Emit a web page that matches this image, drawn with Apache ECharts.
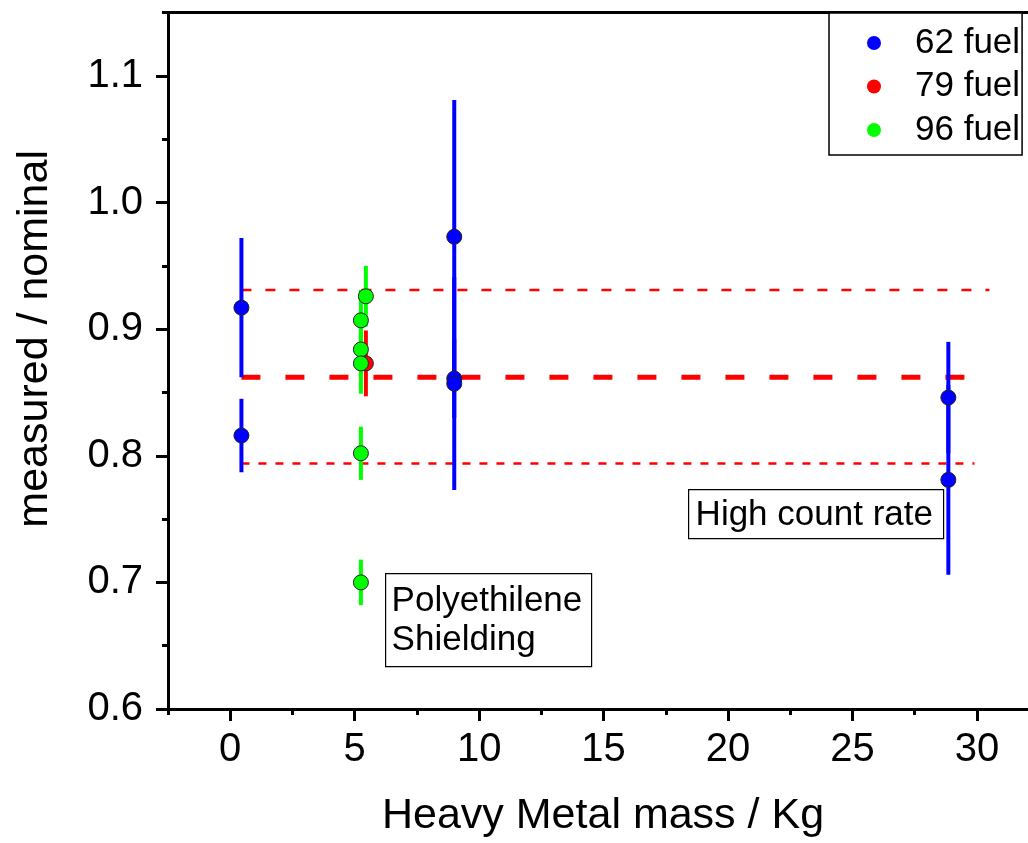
<!DOCTYPE html>
<html>
<head>
<meta charset="utf-8">
<script src="https://cdn.jsdelivr.net/npm/echarts@6/dist/echarts.min.js"></script>
<style>
html,body{margin:0;padding:0;background:#fff;}
#chart{width:1028px;height:843px;}
</style>
</head>
<body>
<div id="chart"></div>
<script>
// ---- data ----
const fuel62X = [0.45, 0.45, 9.0, 9.0, 9.0, 28.85, 28.85];
const fuel62Y = [0.917, 0.816, 0.973, 0.861, 0.857, 0.846, 0.781];
const fuel62Err = [0.055, 0.029, 0.108, 0.031, 0.084, 0.044, 0.075];

const fuel79X = [5.45];
const fuel79Y = [0.873];
const fuel79Err = [0.026];

const fuel96X = [5.45, 5.25, 5.25, 5.25, 5.25, 5.25];
const fuel96Y = [0.926, 0.907, 0.884, 0.873, 0.802, 0.700];
const fuel96Err = [0.024, 0.024, 0.020, 0.024, 0.021, 0.018];

const meanValue = 0.862;
const upperBand = 0.931;
const lowerBand = 0.794;
const meanLineX = [0.45, 30.3];
const upperLineX = [0.45, 30.5];
const lowerLineX = [0.45, 29.9];

const xMajorTicks = [0, 5, 10, 15, 20, 25, 30];
const xMinorTicks = [-2.5, 2.5, 7.5, 12.5, 17.5, 22.5, 27.5];
const yMajorTicks = [0.6, 0.7, 0.8, 0.9, 1.0, 1.1];
const yMinorTicks = [0.65, 0.75, 0.85, 0.95, 1.05, 1.15];

const seriesNames = ['62 fuel', '79 fuel', '96 fuel'];
const seriesColors = ['#0000ff', '#ff0000', '#00ff00'];

// ---- chart ----
const FONT = 'Liberation Sans, Arial, sans-serif';
const X_MIN = -2.5, X_MAX = 32.05, Y_MIN = 0.6, Y_MAX = 1.15;
const chart = echarts.init(document.getElementById('chart'), null, {renderer: 'canvas'});

function pts(xs, ys) { return xs.map((x, i) => [x, ys[i]]); }
function bars(xs, ys, es) { return xs.map((x, i) => [x, ys[i] - es[i], ys[i] + es[i]]); }

function errSeries(name, color, data) {
  return {
    type: 'custom',
    name: name + ' err',
    data: data,
    silent: true,
    encode: {x: 0, y: [1, 2]},
    renderItem: function (params, api) {
      const p1 = api.coord([api.value(0), api.value(1)]);
      const p2 = api.coord([api.value(0), api.value(2)]);
      return {
        type: 'line',
        shape: {x1: p1[0], y1: p1[1], x2: p2[0], y2: p2[1]},
        style: {stroke: color, lineWidth: 4}
      };
    }
  };
}
function ptSeries(name, color, data) {
  return {
    type: 'scatter',
    name: name,
    data: data,
    symbol: 'circle',
    symbolSize: 15,
    itemStyle: {color: color, borderColor: '#222', borderWidth: 1, opacity: 1}
  };
}
function hLine(xs, y, width, dash) {
  return {
    type: 'line',
    data: [[xs[0], y], [xs[1], y]],
    symbol: 'none',
    silent: true,
    lineStyle: {color: '#ff0000', width: width, type: dash},
    z: 1
  };
}

const tickLen = 12, minorLen = 6;
const blackLine = {color: '#000', width: 3};
const option = {
  backgroundColor: '#fff',
  animation: false,
  textStyle: {fontFamily: FONT},
  grid: {left: 168, top: 12.7, right: 0, bottom: 130, show: false},
  xAxis: [{
    type: 'value', min: X_MIN, max: X_MAX,
    axisLine: {show: true, onZero: false, lineStyle: blackLine},
    axisTick: {show: true, inside: false, length: tickLen, customValues: xMajorTicks, lineStyle: blackLine},
    axisLabel: {customValues: xMajorTicks, fontSize: 40, color: '#000', margin: 21, fontFamily: FONT},
    splitLine: {show: false},
    name: 'Heavy Metal mass / Kg', nameLocation: 'middle', nameGap: 86,
    nameTextStyle: {fontSize: 43, color: '#000', fontFamily: FONT, padding: [0, 0, 0, 10]}
  }, {
    type: 'value', min: X_MIN, max: X_MAX, position: 'bottom',
    axisLine: {show: false, onZero: false},
    axisTick: {show: true, length: minorLen, customValues: xMinorTicks, lineStyle: blackLine},
    axisLabel: {show: false},
    splitLine: {show: false}
  }, {
    type: 'value', min: X_MIN, max: X_MAX, position: 'top',
    axisLine: {show: true, onZero: false, lineStyle: blackLine},
    axisTick: {show: false},
    axisLabel: {show: false},
    splitLine: {show: false}
  }],
  yAxis: [{
    type: 'value', min: Y_MIN, max: Y_MAX,
    axisLine: {show: true, onZero: false, lineStyle: blackLine},
    axisTick: {show: true, length: tickLen, customValues: yMajorTicks, lineStyle: blackLine},
    axisLabel: {customValues: yMajorTicks, fontSize: 40, color: '#000', margin: 25, fontFamily: FONT,
      formatter: v => v.toFixed(1)},
    splitLine: {show: false},
    name: 'measured / nominal', nameLocation: 'middle', nameGap: 111, nameRotate: 90,
    nameTextStyle: {fontSize: 43, color: '#000', fontFamily: FONT, padding: [0, 0, 0, 44]}
  }, {
    type: 'value', min: Y_MIN, max: Y_MAX, position: 'left',
    axisLine: {show: false, onZero: false},
    axisTick: {show: true, length: minorLen, customValues: yMinorTicks, lineStyle: blackLine},
    axisLabel: {show: false},
    splitLine: {show: false}
  }],
  legend: {
    data: seriesNames.map((n, i) => ({name: n, itemStyle: {color: seriesColors[i], borderWidth: 0}})),
    orient: 'vertical',
    left: 829, top: 13,
    padding: [10, 2, 5, 38],
    itemWidth: 14, itemHeight: 14,
    itemGap: 3.5,
    icon: 'circle',
    borderColor: '#000', borderWidth: 1.5,
    backgroundColor: '#fff',
    textStyle: {fontSize: 35, color: '#000', lineHeight: 40, fontFamily: FONT, padding: [0, 0, 0, 29]}
  },
  series: [
    hLine(upperLineX, upperBand, 2.5, [10, 14]),
    hLine(lowerLineX, lowerBand, 2.5, [8, 9]),
    hLine(meanLineX, meanValue, 5, [19, 25]),
    errSeries(seriesNames[0], seriesColors[0], bars(fuel62X, fuel62Y, fuel62Err)),
    ptSeries(seriesNames[0], seriesColors[0], pts(fuel62X, fuel62Y)),
    errSeries(seriesNames[1], seriesColors[1], bars(fuel79X, fuel79Y, fuel79Err)),
    ptSeries(seriesNames[1], seriesColors[1], pts(fuel79X, fuel79Y)),
    errSeries(seriesNames[2], seriesColors[2], bars(fuel96X, fuel96Y, fuel96Err)),
    ptSeries(seriesNames[2], seriesColors[2], pts(fuel96X, fuel96Y))
  ],
  graphic: [
    {
      type: 'group', left: 385, top: 573, z: 100,
      children: [
        {type: 'rect', shape: {x: 0, y: 0, width: 206, height: 93},
          style: {fill: '#fff', stroke: '#000', lineWidth: 1.2}},
        {type: 'text', x: 6, y: 8,
          style: {text: 'Polyethilene\nShielding', font: '35px ' + FONT, fill: '#000', lineHeight: 39}}
      ]
    },
    {
      type: 'group', left: 688, top: 489, z: 100,
      children: [
        {type: 'rect', shape: {x: 0, y: 0, width: 255, height: 49},
          style: {fill: '#fff', stroke: '#000', lineWidth: 1.2}},
        {type: 'text', x: 7, y: 6,
          style: {text: 'High count rate', font: '35px ' + FONT, fill: '#000', lineHeight: 39}}
      ]
    }
  ]
};
chart.setOption(option);
</script>
</body>
</html>
